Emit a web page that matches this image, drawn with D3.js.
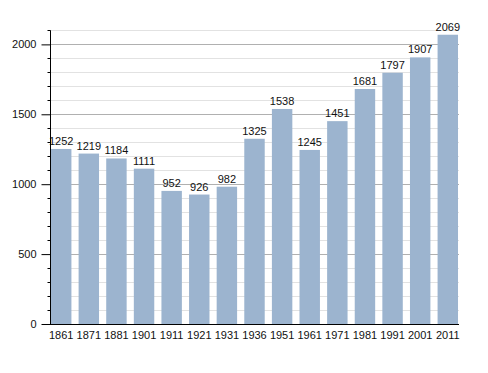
<!DOCTYPE html>
<html>
<meta charset="utf-8">
<style>
body { margin: 0; background: #fff; }
text { font-family: "Liberation Sans", Arial, sans-serif; }
</style>
<script src="https://d3js.org/d3.v7.min.js"></script>
<body>
<div id="chart"></div>
<script>
// census years and population
var years = ["1861", "1871", "1881", "1901", "1911", "1921", "1931", "1936",
             "1951", "1961", "1971", "1981", "1991", "2001", "2011"];
var population = [1252, 1219, 1184, 1111, 952, 926, 982, 1325,
                  1538, 1245, 1451, 1681, 1797, 1907, 2069];
var majorTicks = [0, 500, 1000, 1500, 2000];
var minorTicks = d3.range(0, 2101, 100);

var width = 488, height = 373;

var svg = d3.select("#chart").append("svg")
    .attr("width", width)
    .attr("height", height);

var x = d3.scaleBand()
    .domain(years)
    .range([47.4, 461.6])
    .paddingInner(0.26)
    .paddingOuter(0.13);

var y = d3.scaleLinear()
    .domain([0, 2100])
    .range([324, 30.4]);

// gridlines, light every 100 and darker every 500
svg.append("g").selectAll("line")
    .data(minorTicks.filter(function(d) { return d % 500 != 0; }))
    .enter().append("line")
    .attr("x1", 50).attr("x2", 459)
    .attr("y1", function(d) { return Math.round(y(d)) + 0.5; })
    .attr("y2", function(d) { return Math.round(y(d)) + 0.5; })
    .attr("stroke", "#e2e2e2");

svg.append("g").selectAll("line")
    .data(majorTicks.filter(function(d) { return d > 0; }))
    .enter().append("line")
    .attr("x1", 50).attr("x2", 459)
    .attr("y1", function(d) { return Math.round(y(d)) + 0.5; })
    .attr("y2", function(d) { return Math.round(y(d)) + 0.5; })
    .attr("stroke", "#b0b0b0");

// bars
svg.append("g").selectAll("rect")
    .data(population)
    .enter().append("rect")
    .attr("x", function(d, i) { return x(years[i]); })
    .attr("width", x.bandwidth())
    .attr("y", function(d) { return y(d); })
    .attr("height", function(d) { return y(0) - y(d); })
    .attr("fill", "#9cb4cf");

// value labels
svg.append("g").selectAll("text")
    .data(population)
    .enter().append("text")
    .attr("x", function(d, i) { return x(years[i]) + x.bandwidth() / 2; })
    .attr("y", function(d) { return y(d) - 4; })
    .attr("text-anchor", "middle")
    .attr("font-size", 11)
    .attr("fill", "#111")
    .text(function(d) { return d; });

// y axis
var yAxis = d3.axisLeft(y)
    .tickValues(majorTicks)
    .tickFormat(d3.format("d"))
    .tickSize(9)
    .tickPadding(5);
var yg = svg.append("g")
    .attr("transform", "translate(50.5,0)")
    .call(yAxis);
yg.select(".domain").attr("d", "M0," + y(2100) + "V" + y(0));
yg.selectAll("text").attr("font-size", 11).attr("fill", "#111")
    .style("font-family", "Liberation Sans, Arial, sans-serif");

// minor ticks on y axis
yg.append("g").selectAll("line")
    .data(minorTicks.filter(function(d) { return d % 500 != 0; }))
    .enter().append("line")
    .attr("x1", -3).attr("x2", 0)
    .attr("y1", function(d) { return Math.round(y(d)) + 0.5; })
    .attr("y2", function(d) { return Math.round(y(d)) + 0.5; })
    .attr("stroke", "#000");

// x axis
var xAxis = d3.axisBottom(x).tickSize(0).tickPadding(7);
var xg = svg.append("g")
    .attr("transform", "translate(0,324.5)")
    .call(xAxis);
xg.select(".domain").attr("d", "M50,0H459");
xg.selectAll("text").attr("font-size", 11).attr("fill", "#111")
    .style("font-family", "Liberation Sans, Arial, sans-serif");
</script>
</body>
</html>
